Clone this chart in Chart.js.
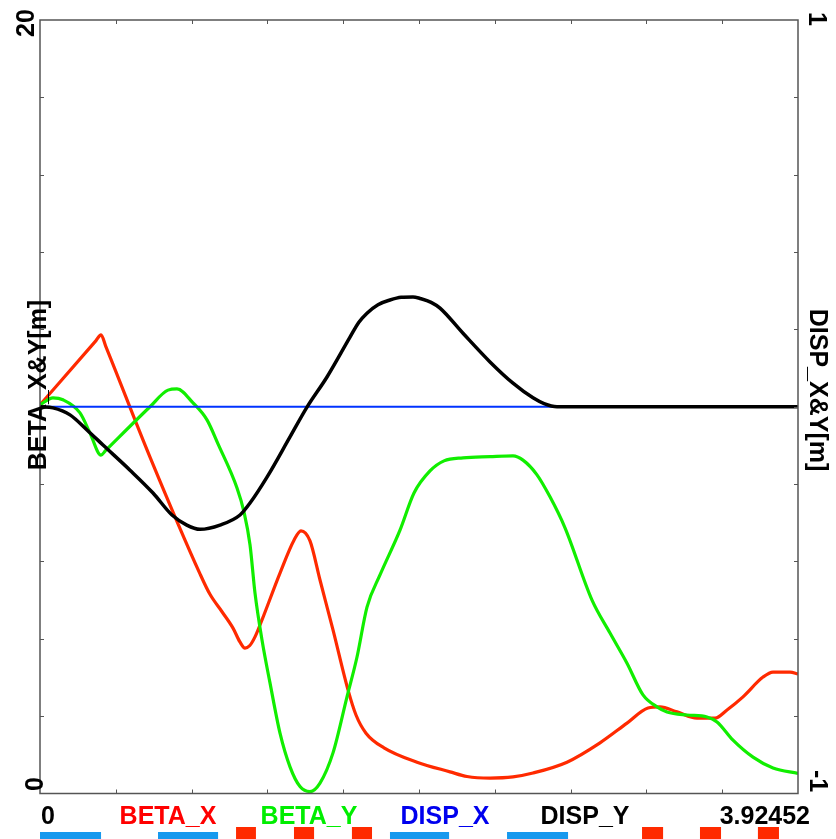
<!DOCTYPE html>
<html>
<head>
<meta charset="utf-8">
<script src="https://cdn.jsdelivr.net/npm/chart.js@4/dist/chart.umd.min.js"></script>
<style>
    html, body { margin: 0; padding: 0; background: #ffffff; }
    canvas { display: block; }
</style>
</head>
<body>
<canvas id="opticsChart" width="836" height="839"></canvas>
<script>
// beam line length [m]
const sMax = 3.92452;

// BETA_X
const sBetaX = [0, 0.290, 0.316, 0.340, 0.5695, 0.8284, 0.880, 0.9423, 1.000, 1.035, 1.0614, 1.085, 1.1132, 1.1494, 1.2426, 1.315, 1.3513, 1.3979,
    1.4497, 1.5170, 1.5947, 1.6361, 1.6879, 1.7811, 1.9519, 2.1228, 2.2108, 2.3300, 2.4490, 2.5525, 2.7285,
    2.8994, 3.0392, 3.1479, 3.2101, 3.2981, 3.4016, 3.4948, 3.5570, 3.6398, 3.7434, 3.7951, 3.8832, 3.92452];
const betaX = [10.05, 11.71, 11.86, 11.57, 8.70, 5.68, 5.15, 4.70, 4.27, 3.92, 3.76, 3.82, 4.05, 4.49, 5.70, 6.55, 6.79, 6.53,
    5.52, 4.23, 2.68, 2.03, 1.56, 1.18, 0.81, 0.56, 0.44, 0.40, 0.43, 0.53, 0.81,
    1.31, 1.82, 2.21, 2.24, 2.11, 1.95, 1.95, 2.16, 2.50, 3.01, 3.14, 3.14, 3.09];

// BETA_Y
const sBetaY = [0, 0.0673, 0.1191, 0.2071, 0.2589, 0.3158, 0.340, 0.5695, 0.6627, 0.7093, 0.7922, 0.8646, 0.9216,
    1.0200, 1.0562, 1.0873, 1.1132, 1.1494, 1.1908, 1.2426, 1.2944, 1.3462, 1.3979, 1.4497, 1.5170,
    1.5895, 1.6413, 1.6930, 1.7603, 1.8639, 1.9364, 2.0192, 2.0917, 2.1901, 2.3299, 2.4490, 2.5007,
    2.5732, 2.6405, 2.7182, 2.8580, 2.9512, 3.0392, 3.1220, 3.1945, 3.2463, 3.3498, 3.4534, 3.5052,
    3.5880, 3.6916, 3.7951, 3.92452];
const betaY = [10.05, 10.23, 10.18, 9.84, 9.32, 8.75, 8.87, 10.00, 10.43, 10.46, 10.10, 9.66, 9.04,
    7.90, 7.28, 6.43, 5.18, 3.97, 2.86, 1.56, 0.69, 0.18, 0.05, 0.27, 1.05,
    2.50, 3.53, 4.82, 5.65, 6.81, 7.77, 8.34, 8.60, 8.68, 8.71, 8.73, 8.62,
    8.24, 7.67, 6.87, 5.00, 4.15, 3.37, 2.55, 2.24, 2.11, 2.03, 1.98, 1.85,
    1.38, 0.94, 0.66, 0.52];

// DISP_X (flat)
const sDispX = [0, 3.92452];
const dispX = [0, 0];

// DISP_Y
const sDispY = [0, 0.0673, 0.1553, 0.2433, 0.3262, 0.4660, 0.5851, 0.6834, 0.7600, 0.8284, 0.9320, 1.0355, 1.0873,
    1.1753, 1.2944, 1.3824, 1.4859, 1.6050, 1.6500, 1.6930, 1.7500, 1.8121, 1.8700, 1.9312, 1.9675, 2.0250, 2.0710,
    2.1901, 2.3299, 2.4490, 2.5525, 2.6100, 2.6768, 3.92452];
const dispY = [0, -0.003, -0.021, -0.060, -0.099, -0.164, -0.223, -0.280, -0.306, -0.317, -0.306, -0.280, -0.249,
    -0.182, -0.078, -0.001, 0.077, 0.180, 0.218, 0.242, 0.264, 0.276, 0.283, 0.284, 0.280, 0.270, 0.255,
    0.190, 0.116, 0.061, 0.023, 0.008, 0, 0];

// lattice: quadrupoles (blue) and bends (red), [start, end] in metres
const quadStart = [0, 0.611, 1.812, 2.418];
const quadEnd   = [0.316, 0.922, 2.118, 2.734];
const bendStart = [1.015, 1.315, 1.615, 3.117, 3.417, 3.717];
const bendEnd   = [1.118, 1.419, 1.719, 3.226, 3.526, 3.826];

const FONT = 'bold 25px "Liberation Sans", Arial, sans-serif';

function toPoints(xs, ys) {
    return xs.map((x, i) => ({ x: x, y: ys[i] }));
}

function drawRotated(ctx, text, cx, cy, angle, color) {
    ctx.save();
    ctx.translate(cx, cy);
    ctx.rotate(angle);
    ctx.font = FONT;
    ctx.fillStyle = color;
    ctx.textAlign = 'center';
    ctx.textBaseline = 'alphabetic';
    ctx.fillText(text, 0, 9);
    ctx.restore();
}

// frame, inward ticks, axis texts and the lattice strip under the plot
const opticsFrame = {
    id: 'opticsFrame',
    afterDraw(chart) {
        const ctx = chart.ctx;
        const area = chart.chartArea;
        const xs = chart.scales.x;

        ctx.save();
        ctx.strokeStyle = '#555555';
        ctx.lineWidth = 1.5;
        ctx.strokeRect(area.left, area.top, area.right - area.left, area.bottom - area.top);

        ctx.lineWidth = 1;
        ctx.beginPath();
        for (let i = 1; i < 10; i++) {
            const px = Math.round(area.left + (area.right - area.left) * i / 10) + 0.5;
            ctx.moveTo(px, area.bottom); ctx.lineTo(px, area.bottom - 4);
            ctx.moveTo(px, area.top); ctx.lineTo(px, area.top + 4);
            const py = Math.round(area.top + (area.bottom - area.top) * i / 10) + 0.5;
            ctx.moveTo(area.left, py); ctx.lineTo(area.left + 4, py);
            ctx.moveTo(area.right, py); ctx.lineTo(area.right - 4, py);
        }
        ctx.stroke();

        // lattice elements
        ctx.fillStyle = '#1799ee';
        quadStart.forEach((s, i) => {
            const x0 = xs.getPixelForValue(s);
            const x1 = xs.getPixelForValue(quadEnd[i]);
            ctx.fillRect(x0, 832, x1 - x0, 7);
        });
        ctx.fillStyle = '#ff2a00';
        bendStart.forEach((s, i) => {
            const x0 = xs.getPixelForValue(s);
            const x1 = xs.getPixelForValue(bendEnd[i]);
            ctx.fillRect(x0, 827, x1 - x0, 12);
        });

        // bottom labels
        ctx.font = FONT;
        ctx.textBaseline = 'alphabetic';
        ctx.textAlign = 'left';
        ctx.fillStyle = '#000000';
        ctx.fillText('0', 41, 824);
        ctx.textAlign = 'center';
        ctx.fillStyle = '#ff0000';
        ctx.fillText('BETA_X', 168, 824);
        ctx.fillStyle = '#00ee00';
        ctx.fillText('BETA_Y', 309, 824);
        ctx.fillStyle = '#0000ee';
        ctx.fillText('DISP_X', 445, 824);
        ctx.fillStyle = '#000000';
        ctx.fillText('DISP_Y', 585, 824);
        ctx.textAlign = 'right';
        ctx.fillText(String(sMax), 810, 824);
        ctx.restore();

        // axis limits and titles
        drawRotated(ctx, '20', 25, 23, -Math.PI / 2, '#000000');
        drawRotated(ctx, '0', 34, 784, -Math.PI / 2, '#000000');
        drawRotated(ctx, 'BETA_X&Y[m]', 37, 385, -Math.PI / 2, '#000000');
        drawRotated(ctx, '1', 818, 19, Math.PI / 2, '#000000');
        drawRotated(ctx, '-1', 819, 781, Math.PI / 2, '#000000');
        drawRotated(ctx, 'DISP_X&Y[m]', 819, 390, Math.PI / 2, '#000000');
    }
};

const lineStyle = { pointRadius: 0, fill: false, cubicInterpolationMode: 'monotone' };

new Chart(document.getElementById('opticsChart'), {
    type: 'line',
    data: {
        datasets: [
            Object.assign({ label: 'DISP_Y', data: toPoints(sDispY, dispY), yAxisID: 'y2',
                borderColor: '#000000', borderWidth: 3.5, order: 0 }, lineStyle),
            Object.assign({ label: 'DISP_X', data: toPoints(sDispX, dispX), yAxisID: 'y2',
                borderColor: '#0033ff', borderWidth: 2, order: 1 }, lineStyle),
            Object.assign({ label: 'BETA_Y', data: toPoints(sBetaY, betaY), yAxisID: 'y',
                borderColor: '#11ee00', borderWidth: 3.2, order: 2 }, lineStyle),
            Object.assign({ label: 'BETA_X', data: toPoints(sBetaX, betaX), yAxisID: 'y',
                borderColor: '#ff2a00', borderWidth: 3.2, order: 3 }, lineStyle)
        ]
    },
    options: {
        responsive: false,
        animation: false,
        devicePixelRatio: 1,
        layout: { padding: { left: 40, top: 20, right: 38, bottom: 45.5 } },
        plugins: { legend: { display: false }, tooltip: { enabled: false } },
        scales: {
            x: { type: 'linear', min: 0, max: sMax, display: false },
            y: { type: 'linear', position: 'left', min: 0, max: 20, display: false },
            y2: { type: 'linear', position: 'right', min: -1, max: 1, display: false }
        }
    },
    plugins: [opticsFrame]
});
</script>
</body>
</html>
